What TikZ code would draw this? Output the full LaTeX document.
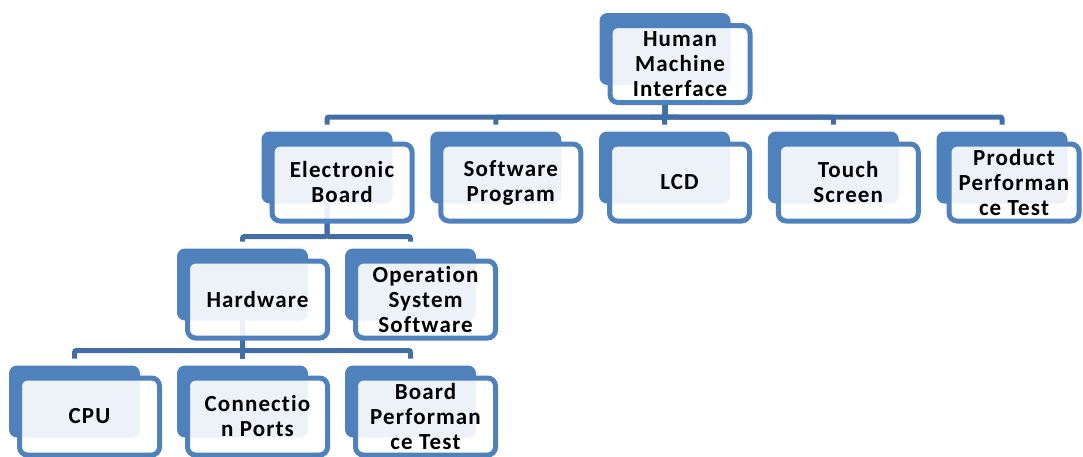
\documentclass[tikz,border=0pt]{standalone}
\usepackage{fontspec}
\setmainfont{Carlito}
\newfontfamily\boxfont[LetterSpace=5,Ligatures=NoCommon]{Carlito}
\usetikzlibrary{positioning}
\definecolor{boxblue}{RGB}{79,129,189}
\definecolor{lineblue}{RGB}{66,110,165}

\begin{document}
\begin{tikzpicture}[x=1pt,y=-1pt,back/.style={rectangle,fill=boxblue,rounded corners=8pt,minimum width=131pt,minimum height=72pt,inner sep=0pt,outer sep=0pt},front/.style={rectangle,draw=boxblue,line width=5pt,fill=white,fill opacity=0.9,text opacity=1,rounded corners=8pt,minimum width=140pt,minimum height=77pt,inner sep=2pt,align=center,font=\boxfont\bfseries\fontsize{23}{25}\selectfont}, links/.style={draw=lineblue,line width=5pt,rounded corners=2pt}]

	\useasboundingbox (0,0) rectangle (1083,456);

	% back plates
	\node[back] (hmi) at (665,49) {};
	\node[back] (eb) at (327,167.5) {};
	\node[back, right = 37.75pt of eb] (sp) {};
	\node[back, right = 37.75pt of sp] (lcd) {};
	\node[back, right = 37.75pt of lcd] (ts) {};
	\node[back, right = 37.75pt of ts] (ppt) {};
	\node[back, below = 45pt of eb, xshift=-84.5pt] (hw) {};
	\node[back, right = 37pt of hw] (oss) {};
	\node[back, below = 45pt of hw] (cp) {};
	\node[back, left = 37pt of cp] (cpu) {};
	\node[back, right = 37pt of cp] (bpt) {};

	% tree links
	\foreach \c in {eb,sp,lcd,ts,ppt}
		\draw[links] (hmi.south) -- ++(0,-32pt) -| ([yshift=7pt]\c.north);
	\foreach \c in {hw,oss}
		\draw[links] (eb.south) -- ++(0,-33pt) -| ([yshift=7pt]\c.north);
	\foreach \c in {cpu,cp,bpt}
		\draw[links] (hw.south) -- ++(0,-30pt) -| ([yshift=7pt]\c.north);

	% text boxes
	\node[front] (hmi-t) at ([xshift=15pt,yshift=-15pt]hmi.center) {Human\\Machine\\Interface};
	\node[front] (eb-t) at ([xshift=15pt,yshift=-15pt]eb.center) {Electronic\\Board};
	\node[front] (sp-t) at ([xshift=15pt,yshift=-15pt]sp.center) {Software\\Program};
	\node[front] (lcd-t) at ([xshift=15pt,yshift=-15pt]lcd.center) {LCD};
	\node[front] (ts-t) at ([xshift=15pt,yshift=-15pt]ts.center) {Touch\\Screen};
	\node[front, minimum width=130pt] (ppt-t) at ([xshift=12pt,yshift=-15pt]ppt.center) {Product\\Performan\\ce Test};
	\node[front] (hw-t) at ([xshift=15pt,yshift=-15pt]hw.center) {Hardware};
	\node[front] (oss-t) at ([xshift=15pt,yshift=-15pt]oss.center) {Operation\\System\\Software};
	\node[front] (cpu-t) at ([xshift=15pt,yshift=-15pt]cpu.center) {CPU};
	\node[front] (cp-t) at ([xshift=15pt,yshift=-15pt]cp.center) {Connectio\\n Ports};
	\node[front] (bpt-t) at ([xshift=15pt,yshift=-15pt]bpt.center) {Board\\Performan\\ce Test};

\end{tikzpicture}
\end{document}
